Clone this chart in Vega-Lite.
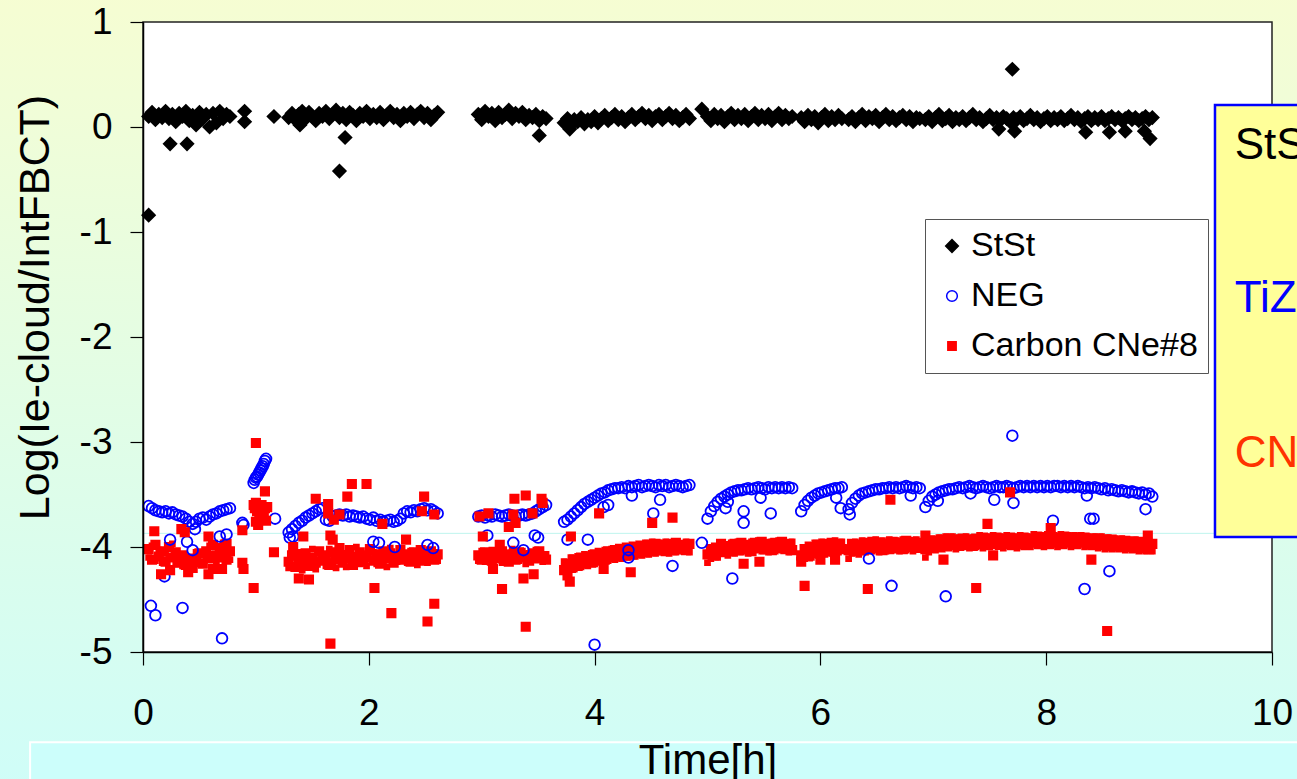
{
"$schema":"https://vega.github.io/schema/vega-lite/v6.json",
"width":1129,"height":630,
"autosize":{"type":"none"},
"padding":{"left":143,"top":22,"right":25,"bottom":127},
"background":"#e4fde6",
"config":{
 "view":{"stroke":null},
 "font":"Liberation Sans",
 "axis":{"grid":false,"domainColor":"#000000","domainWidth":1.5,"tickColor":"#000000","tickWidth":1.2,"tickSize":13,"labelColor":"#000000","labelFont":"Liberation Sans","labelFontSize":37,"titleFont":"Liberation Sans","titleFontWeight":"normal","titleColor":"#000000"},
 "axisX":{"labelPadding":30,"titleFontSize":42,"titlePadding":9,"labelFlush":false},
 "axisY":{"labelPadding":18,"titleFontSize":43,"titlePadding":20}
},
"datasets":{
"pts":[
{"t":0.05,"StSt":0.1,"NEG":-3.61,"Carbon":-4.02,"Carbon2":-4.1},
{"t":0.08,"StSt":0.14,"NEG":-3.63,"Carbon":-4.12,"Carbon2":-3.99},
{"t":0.11,"StSt":0.07,"NEG":-3.65,"Carbon":-3.98,"Carbon2":-4.13},
{"t":0.14,"StSt":0.12,"NEG":-3.66,"Carbon":-4.09,"Carbon2":-4.03},
{"t":0.17,"StSt":0.09,"NEG":-3.67,"Carbon":-4.04,"Carbon2":-4.15},
{"t":0.2,"StSt":0.15,"NEG":-3.66,"Carbon":-4.14,"Carbon2":-4.06},
{"t":0.23,"StSt":0.08,"NEG":-3.68,"Carbon":-4.0,"Carbon2":-4.11},
{"t":0.26,"StSt":0.12,"NEG":-3.67,"Carbon":-4.1,"Carbon2":-3.97},
{"t":0.29,"StSt":0.05,"NEG":-3.69,"Carbon":-4.05,"Carbon2":-4.16},
{"t":0.32,"StSt":0.13,"NEG":-3.7,"Carbon":-4.15,"Carbon2":-4.08},
{"t":0.35,"StSt":0.1,"NEG":-3.71,"Carbon":-4.08,"Carbon2":-4.18},
{"t":0.38,"StSt":0.15,"NEG":-3.73,"Carbon":-4.17,"Carbon2":-4.1},
{"t":0.41,"StSt":0.06,"NEG":-3.76,"Carbon":-4.11,"Carbon2":-4.2},
{"t":0.44,"StSt":0.11,"NEG":-3.78,"Carbon":-4.2,"Carbon2":-4.13},
{"t":0.47,"StSt":0.02,"NEG":-3.76,"Carbon":-4.13,"Carbon2":-4.05},
{"t":0.5,"StSt":0.14,"NEG":-3.73,"Carbon":-4.06,"Carbon2":-4.16},
{"t":0.53,"StSt":0.08,"NEG":-3.72,"Carbon":-4.16,"Carbon2":-4.08},
{"t":0.56,"StSt":0.12,"NEG":-3.74,"Carbon":-4.04,"Carbon2":-4.12},
{"t":0.59,"StSt":0.0,"NEG":-3.71,"Carbon":-4.11,"Carbon2":-3.99},
{"t":0.62,"StSt":0.13,"NEG":-3.69,"Carbon":-3.98,"Carbon2":-4.07},
{"t":0.65,"StSt":0.04,"NEG":-3.68,"Carbon":-4.08,"Carbon2":-4.14},
{"t":0.68,"StSt":0.15,"NEG":-3.66,"Carbon":-4.01,"Carbon2":-4.1},
{"t":0.71,"StSt":0.08,"NEG":-3.65,"Carbon":-4.1,"Carbon2":-3.96},
{"t":0.74,"StSt":0.12,"NEG":-3.64,"Carbon":-3.97,"Carbon2":-4.05},
{"t":0.77,"StSt":0.1,"NEG":-3.63,"Carbon":-4.04,"Carbon2":-4.12},
{"t":1.29,"StSt":0.09,"NEG":-3.86,"Carbon":-4.14,"Carbon2":-4.2},
{"t":1.32,"StSt":0.13,"NEG":-3.83,"Carbon":-4.08,"Carbon2":-4.17},
{"t":1.35,"StSt":0.07,"NEG":-3.8,"Carbon":-4.19,"Carbon2":-4.1},
{"t":1.38,"StSt":0.12,"NEG":-3.77,"Carbon":-4.12,"Carbon2":-4.05},
{"t":1.41,"StSt":0.15,"NEG":-3.75,"Carbon":-4.16,"Carbon2":-4.22},
{"t":1.44,"StSt":0.08,"NEG":-3.72,"Carbon":-4.06,"Carbon2":-4.13},
{"t":1.47,"StSt":0.14,"NEG":-3.7,"Carbon":-4.18,"Carbon2":-4.09},
{"t":1.5,"StSt":0.1,"NEG":-3.68,"Carbon":-4.1,"Carbon2":-4.02},
{"t":1.53,"StSt":0.06,"NEG":-3.66,"Carbon":-4.15,"Carbon2":-4.21},
{"t":1.56,"StSt":0.13,"NEG":-3.64,"Carbon":-4.04,"Carbon2":-4.12},
{"t":1.59,"StSt":0.1,"NEG":-3.63,"Carbon":-4.13,"Carbon2":-4.07},
{"t":1.62,"StSt":0.15,"NEG":-3.74,"Carbon":-4.08,"Carbon2":-4.18},
{"t":1.65,"StSt":0.08,"NEG":-3.75,"Carbon":-4.17,"Carbon2":-4.02},
{"t":1.68,"StSt":0.12,"NEG":-3.71,"Carbon":-4.05,"Carbon2":-4.14},
{"t":1.71,"StSt":0.16,"NEG":-3.7,"Carbon":-4.12,"Carbon2":-4.2},
{"t":1.74,"StSt":0.09,"NEG":-3.69,"Carbon":-4.01,"Carbon2":-4.09},
{"t":1.77,"StSt":0.13,"NEG":-3.7,"Carbon":-4.15,"Carbon2":-4.06},
{"t":1.8,"StSt":0.07,"NEG":-3.69,"Carbon":-4.09,"Carbon2":-4.19},
{"t":1.83,"StSt":0.14,"NEG":-3.71,"Carbon":-4.03,"Carbon2":-4.12},
{"t":1.86,"StSt":0.11,"NEG":-3.7,"Carbon":-4.17,"Carbon2":-4.08},
{"t":1.89,"StSt":0.06,"NEG":-3.71,"Carbon":-4.1,"Carbon2":-4.0},
{"t":1.92,"StSt":0.13,"NEG":-3.72,"Carbon":-4.05,"Carbon2":-4.16},
{"t":1.95,"StSt":0.1,"NEG":-3.71,"Carbon":-4.14,"Carbon2":-4.07},
{"t":1.98,"StSt":0.15,"NEG":-3.73,"Carbon":-4.08,"Carbon2":-4.18},
{"t":2.01,"StSt":0.08,"NEG":-3.74,"Carbon":-4.02,"Carbon2":-4.11},
{"t":2.04,"StSt":0.12,"NEG":-3.72,"Carbon":-4.13,"Carbon2":-4.05},
{"t":2.07,"StSt":0.09,"NEG":-3.75,"Carbon":-4.07,"Carbon2":-4.16},
{"t":2.1,"StSt":0.14,"NEG":-3.74,"Carbon":-4.16,"Carbon2":-4.1},
{"t":2.13,"StSt":0.07,"NEG":-3.76,"Carbon":-4.04,"Carbon2":-4.13},
{"t":2.16,"StSt":0.11,"NEG":-3.75,"Carbon":-4.11,"Carbon2":-4.19},
{"t":2.19,"StSt":0.15,"NEG":-3.74,"Carbon":-4.06,"Carbon2":-4.01},
{"t":2.22,"StSt":0.09,"NEG":-3.76,"Carbon":-4.15,"Carbon2":-4.09},
{"t":2.25,"StSt":0.12,"NEG":-3.75,"Carbon":-4.09,"Carbon2":-4.14},
{"t":2.28,"StSt":0.06,"NEG":-3.73,"Carbon":-4.03,"Carbon2":-4.11},
{"t":2.31,"StSt":0.13,"NEG":-3.68,"Carbon":-4.12,"Carbon2":-4.06},
{"t":2.34,"StSt":0.1,"NEG":-3.66,"Carbon":-4.07,"Carbon2":-4.15},
{"t":2.37,"StSt":0.14,"NEG":-3.67,"Carbon":-4.14,"Carbon2":-4.04},
{"t":2.4,"StSt":0.08,"NEG":-3.65,"Carbon":-4.05,"Carbon2":-4.12},
{"t":2.43,"StSt":0.12,"NEG":-3.66,"Carbon":-4.1,"Carbon2":-4.17},
{"t":2.46,"StSt":0.15,"NEG":-3.64,"Carbon":-4.03,"Carbon2":-4.08},
{"t":2.49,"StSt":0.09,"NEG":-3.63,"Carbon":-4.13,"Carbon2":-4.06},
{"t":2.52,"StSt":0.13,"NEG":-3.65,"Carbon":-4.08,"Carbon2":-4.15},
{"t":2.55,"StSt":0.07,"NEG":-3.64,"Carbon":-4.04,"Carbon2":-4.11},
{"t":2.58,"StSt":0.11,"NEG":-3.66,"Carbon":-4.12,"Carbon2":-4.05},
{"t":2.61,"StSt":0.14,"NEG":-3.68,"Carbon":-4.07,"Carbon2":-4.13},
{"t":2.97,"StSt":0.12,"NEG":-3.71,"Carbon":-4.08,"Carbon2":-4.13},
{"t":3.0,"StSt":0.07,"NEG":-3.7,"Carbon":-4.12,"Carbon2":-4.04},
{"t":3.03,"StSt":0.15,"NEG":-3.72,"Carbon":-4.05,"Carbon2":-4.14},
{"t":3.06,"StSt":0.1,"NEG":-3.7,"Carbon":-4.1,"Carbon2":-4.07},
{"t":3.09,"StSt":0.13,"NEG":-3.71,"Carbon":-4.13,"Carbon2":-4.03},
{"t":3.12,"StSt":0.06,"NEG":-3.69,"Carbon":-4.06,"Carbon2":-4.12},
{"t":3.15,"StSt":0.14,"NEG":-3.7,"Carbon":-4.11,"Carbon2":-4.08},
{"t":3.18,"StSt":0.09,"NEG":-3.71,"Carbon":-4.04,"Carbon2":-4.15},
{"t":3.21,"StSt":0.12,"NEG":-3.7,"Carbon":-4.09,"Carbon2":-4.06},
{"t":3.24,"StSt":0.16,"NEG":-3.69,"Carbon":-4.14,"Carbon2":-4.1},
{"t":3.27,"StSt":0.08,"NEG":-3.7,"Carbon":-4.07,"Carbon2":-4.02},
{"t":3.3,"StSt":0.13,"NEG":-3.71,"Carbon":-4.12,"Carbon2":-4.09},
{"t":3.33,"StSt":0.1,"NEG":-3.7,"Carbon":-4.05,"Carbon2":-4.13},
{"t":3.36,"StSt":0.14,"NEG":-3.69,"Carbon":-4.1,"Carbon2":-4.04},
{"t":3.39,"StSt":0.07,"NEG":-3.7,"Carbon":-4.08,"Carbon2":-4.16},
{"t":3.42,"StSt":0.11,"NEG":-3.69,"Carbon":-4.13,"Carbon2":-4.06},
{"t":3.45,"StSt":0.09,"NEG":-3.68,"Carbon":-4.06,"Carbon2":-4.11},
{"t":3.48,"StSt":0.12,"NEG":-3.66,"Carbon":-4.11,"Carbon2":-4.03},
{"t":3.51,"StSt":0.06,"NEG":-3.64,"Carbon":-4.04,"Carbon2":-4.1},
{"t":3.54,"StSt":0.1,"NEG":-3.62,"Carbon":-4.09,"Carbon2":-4.14},
{"t":3.57,"StSt":0.08,"NEG":-3.6,"Carbon":-4.12,"Carbon2":-4.07},
{"t":3.73,"StSt":0.04,"NEG":-3.76,"Carbon":-4.22,"Carbon2":-4.14},
{"t":3.76,"StSt":0.08,"NEG":-3.74,"Carbon":-4.16,"Carbon2":-4.25},
{"t":3.79,"StSt":0.02,"NEG":-3.71,"Carbon":-4.2,"Carbon2":-4.1},
{"t":3.82,"StSt":0.07,"NEG":-3.68,"Carbon":-4.12,"Carbon2":-4.21},
{"t":3.85,"StSt":0.05,"NEG":-3.65,"Carbon":-4.18,"Carbon2":-4.09},
{"t":3.88,"StSt":0.09,"NEG":-3.62,"Carbon":-4.1,"Carbon2":-4.19},
{"t":3.91,"StSt":0.03,"NEG":-3.59,"Carbon":-4.16,"Carbon2":-4.07},
{"t":3.94,"StSt":0.07,"NEG":-3.57,"Carbon":-4.09,"Carbon2":-4.18},
{"t":3.97,"StSt":0.05,"NEG":-3.55,"Carbon":-4.15,"Carbon2":-4.06},
{"t":4.0,"StSt":0.1,"NEG":-3.53,"Carbon":-4.07,"Carbon2":-4.16},
{"t":4.03,"StSt":0.04,"NEG":-3.51,"Carbon":-4.13,"Carbon2":-4.04},
{"t":4.06,"StSt":0.08,"NEG":-3.49,"Carbon":-4.06,"Carbon2":-4.14},
{"t":4.09,"StSt":0.11,"NEG":-3.48,"Carbon":-4.12,"Carbon2":-4.03},
{"t":4.12,"StSt":0.06,"NEG":-3.46,"Carbon":-4.04,"Carbon2":-4.13},
{"t":4.15,"StSt":0.09,"NEG":-3.45,"Carbon":-4.1,"Carbon2":-4.02},
{"t":4.18,"StSt":0.12,"NEG":-3.44,"Carbon":-4.03,"Carbon2":-4.12},
{"t":4.21,"StSt":0.07,"NEG":-3.44,"Carbon":-4.09,"Carbon2":-4.0},
{"t":4.24,"StSt":0.1,"NEG":-3.43,"Carbon":-4.02,"Carbon2":-4.11},
{"t":4.27,"StSt":0.05,"NEG":-3.44,"Carbon":-4.08,"Carbon2":-3.99},
{"t":4.3,"StSt":0.09,"NEG":-3.42,"Carbon":-4.01,"Carbon2":-4.1},
{"t":4.33,"StSt":0.12,"NEG":-3.43,"Carbon":-4.07,"Carbon2":-3.98},
{"t":4.36,"StSt":0.07,"NEG":-3.42,"Carbon":-4.0,"Carbon2":-4.09},
{"t":4.39,"StSt":0.1,"NEG":-3.41,"Carbon":-4.06,"Carbon2":-3.97},
{"t":4.42,"StSt":0.13,"NEG":-3.43,"Carbon":-3.99,"Carbon2":-4.08},
{"t":4.45,"StSt":0.08,"NEG":-3.42,"Carbon":-4.05,"Carbon2":-3.96},
{"t":4.48,"StSt":0.11,"NEG":-3.41,"Carbon":-3.98,"Carbon2":-4.07},
{"t":4.51,"StSt":0.06,"NEG":-3.42,"Carbon":-4.04,"Carbon2":-3.95},
{"t":4.54,"StSt":0.1,"NEG":-3.43,"Carbon":-3.97,"Carbon2":-4.06},
{"t":4.57,"StSt":0.12,"NEG":-3.41,"Carbon":-4.03,"Carbon2":-3.96},
{"t":4.6,"StSt":0.07,"NEG":-3.42,"Carbon":-3.98,"Carbon2":-4.05},
{"t":4.63,"StSt":0.1,"NEG":-3.41,"Carbon":-4.04,"Carbon2":-3.95},
{"t":4.66,"StSt":0.13,"NEG":-3.43,"Carbon":-3.97,"Carbon2":-4.06},
{"t":4.69,"StSt":0.08,"NEG":-3.42,"Carbon":-4.03,"Carbon2":-3.96},
{"t":4.72,"StSt":0.11,"NEG":-3.41,"Carbon":-3.96,"Carbon2":-4.05},
{"t":4.75,"StSt":0.06,"NEG":-3.42,"Carbon":-4.02,"Carbon2":-3.97},
{"t":4.78,"StSt":0.09,"NEG":-3.43,"Carbon":-3.98,"Carbon2":-4.04},
{"t":4.81,"StSt":0.12,"NEG":-3.42,"Carbon":-4.03,"Carbon2":-3.95},
{"t":4.84,"StSt":0.08,"NEG":-3.41,"Carbon":-3.97,"Carbon2":-4.05},
{"t":5.0,"StSt":0.1,"NEG":-3.73,"Carbon":-4.07,"Carbon2":-4.15},
{"t":5.03,"StSt":0.06,"NEG":-3.66,"Carbon":-4.02,"Carbon2":-4.11},
{"t":5.06,"StSt":0.12,"NEG":-3.61,"Carbon":-4.08,"Carbon2":-3.99},
{"t":5.09,"StSt":0.08,"NEG":-3.57,"Carbon":-4.03,"Carbon2":-4.1},
{"t":5.12,"StSt":0.11,"NEG":-3.54,"Carbon":-3.97,"Carbon2":-4.06},
{"t":5.15,"StSt":0.05,"NEG":-3.52,"Carbon":-4.05,"Carbon2":-3.98},
{"t":5.18,"StSt":0.1,"NEG":-3.5,"Carbon":-3.99,"Carbon2":-4.08},
{"t":5.21,"StSt":0.13,"NEG":-3.48,"Carbon":-4.04,"Carbon2":-3.96},
{"t":5.24,"StSt":0.07,"NEG":-3.47,"Carbon":-3.97,"Carbon2":-4.06},
{"t":5.27,"StSt":0.11,"NEG":-3.46,"Carbon":-4.03,"Carbon2":-3.95},
{"t":5.3,"StSt":0.08,"NEG":-3.46,"Carbon":-3.96,"Carbon2":-4.05},
{"t":5.33,"StSt":0.12,"NEG":-3.45,"Carbon":-4.02,"Carbon2":-3.97},
{"t":5.36,"StSt":0.06,"NEG":-3.44,"Carbon":-3.98,"Carbon2":-4.06},
{"t":5.39,"StSt":0.1,"NEG":-3.45,"Carbon":-4.04,"Carbon2":-3.95},
{"t":5.42,"StSt":0.13,"NEG":-3.44,"Carbon":-3.96,"Carbon2":-4.03},
{"t":5.45,"StSt":0.07,"NEG":-3.43,"Carbon":-4.01,"Carbon2":-3.94},
{"t":5.48,"StSt":0.11,"NEG":-3.44,"Carbon":-3.95,"Carbon2":-4.04},
{"t":5.51,"StSt":0.08,"NEG":-3.45,"Carbon":-4.02,"Carbon2":-3.96},
{"t":5.54,"StSt":0.12,"NEG":-3.43,"Carbon":-3.97,"Carbon2":-4.05},
{"t":5.57,"StSt":0.06,"NEG":-3.44,"Carbon":-4.03,"Carbon2":-3.95},
{"t":5.6,"StSt":0.1,"NEG":-3.43,"Carbon":-3.96,"Carbon2":-4.04},
{"t":5.63,"StSt":0.13,"NEG":-3.44,"Carbon":-4.01,"Carbon2":-3.94},
{"t":5.66,"StSt":0.07,"NEG":-3.43,"Carbon":-3.95,"Carbon2":-4.03},
{"t":5.69,"StSt":0.11,"NEG":-3.44,"Carbon":-4.02,"Carbon2":-3.96},
{"t":5.72,"StSt":0.08,"NEG":-3.43,"Carbon":-3.97,"Carbon2":-4.05},
{"t":5.75,"StSt":0.1,"NEG":-3.44,"Carbon":-4.03,"Carbon2":-3.95},
{"t":5.83,"StSt":0.09,"NEG":-3.66,"Carbon":-4.08,"Carbon2":-4.14},
{"t":5.86,"StSt":0.05,"NEG":-3.6,"Carbon":-4.02,"Carbon2":-4.11},
{"t":5.89,"StSt":0.11,"NEG":-3.56,"Carbon":-4.09,"Carbon2":-3.98},
{"t":5.92,"StSt":0.07,"NEG":-3.53,"Carbon":-4.0,"Carbon2":-4.1},
{"t":5.95,"StSt":0.1,"NEG":-3.51,"Carbon":-4.06,"Carbon2":-3.96},
{"t":5.98,"StSt":0.04,"NEG":-3.49,"Carbon":-3.98,"Carbon2":-4.08},
{"t":6.01,"StSt":0.09,"NEG":-3.48,"Carbon":-4.05,"Carbon2":-3.95},
{"t":6.04,"StSt":0.12,"NEG":-3.47,"Carbon":-3.97,"Carbon2":-4.07},
{"t":6.07,"StSt":0.06,"NEG":-3.46,"Carbon":-4.04,"Carbon2":-3.96},
{"t":6.1,"StSt":0.1,"NEG":-3.45,"Carbon":-3.96,"Carbon2":-4.06},
{"t":6.13,"StSt":0.07,"NEG":-3.44,"Carbon":-4.03,"Carbon2":-3.94},
{"t":6.16,"StSt":0.11,"NEG":-3.44,"Carbon":-3.97,"Carbon2":-4.05},
{"t":6.19,"StSt":0.08,"NEG":-3.43,"Carbon":-4.02,"Carbon2":-3.95},
{"t":6.25,"StSt":0.07,"NEG":-3.64,"Carbon":-4.03,"Carbon2":-4.11},
{"t":6.28,"StSt":0.1,"NEG":-3.58,"Carbon":-3.97,"Carbon2":-4.06},
{"t":6.31,"StSt":0.05,"NEG":-3.54,"Carbon":-4.04,"Carbon2":-3.95},
{"t":6.34,"StSt":0.09,"NEG":-3.51,"Carbon":-3.98,"Carbon2":-4.07},
{"t":6.37,"StSt":0.12,"NEG":-3.49,"Carbon":-4.03,"Carbon2":-3.94},
{"t":6.4,"StSt":0.06,"NEG":-3.48,"Carbon":-3.96,"Carbon2":-4.05},
{"t":6.43,"StSt":0.1,"NEG":-3.47,"Carbon":-4.02,"Carbon2":-3.95},
{"t":6.46,"StSt":0.08,"NEG":-3.46,"Carbon":-3.95,"Carbon2":-4.04},
{"t":6.49,"StSt":0.11,"NEG":-3.45,"Carbon":-4.01,"Carbon2":-3.93},
{"t":6.52,"StSt":0.05,"NEG":-3.45,"Carbon":-3.96,"Carbon2":-4.05},
{"t":6.55,"StSt":0.09,"NEG":-3.44,"Carbon":-4.03,"Carbon2":-3.94},
{"t":6.58,"StSt":0.12,"NEG":-3.44,"Carbon":-3.97,"Carbon2":-4.04},
{"t":6.61,"StSt":0.07,"NEG":-3.43,"Carbon":-4.02,"Carbon2":-3.93},
{"t":6.64,"StSt":0.1,"NEG":-3.44,"Carbon":-3.95,"Carbon2":-4.03},
{"t":6.67,"StSt":0.06,"NEG":-3.43,"Carbon":-4.01,"Carbon2":-3.94},
{"t":6.7,"StSt":0.09,"NEG":-3.44,"Carbon":-3.96,"Carbon2":-4.04},
{"t":6.73,"StSt":0.11,"NEG":-3.43,"Carbon":-4.02,"Carbon2":-3.93},
{"t":6.76,"StSt":0.07,"NEG":-3.42,"Carbon":-3.94,"Carbon2":-4.03},
{"t":6.79,"StSt":0.1,"NEG":-3.43,"Carbon":-4.0,"Carbon2":-3.95},
{"t":6.82,"StSt":0.05,"NEG":-3.44,"Carbon":-3.95,"Carbon2":-4.04},
{"t":6.85,"StSt":0.09,"NEG":-3.43,"Carbon":-4.01,"Carbon2":-3.93},
{"t":6.88,"StSt":0.08,"NEG":-3.44,"Carbon":-3.96,"Carbon2":-4.02},
{"t":6.93,"StSt":0.07,"NEG":-3.62,"Carbon":-4.02,"Carbon2":-4.1},
{"t":6.96,"StSt":0.1,"NEG":-3.56,"Carbon":-3.95,"Carbon2":-4.05},
{"t":6.99,"StSt":0.05,"NEG":-3.52,"Carbon":-4.01,"Carbon2":-3.92},
{"t":7.02,"StSt":0.09,"NEG":-3.5,"Carbon":-3.94,"Carbon2":-4.03},
{"t":7.05,"StSt":0.12,"NEG":-3.48,"Carbon":-4.0,"Carbon2":-3.91},
{"t":7.08,"StSt":0.06,"NEG":-3.47,"Carbon":-3.93,"Carbon2":-4.02},
{"t":7.11,"StSt":0.08,"NEG":-3.46,"Carbon":-3.99,"Carbon2":-3.9},
{"t":7.14,"StSt":0.11,"NEG":-3.45,"Carbon":-3.92,"Carbon2":-4.01},
{"t":7.17,"StSt":0.05,"NEG":-3.45,"Carbon":-3.98,"Carbon2":-3.9},
{"t":7.2,"StSt":0.09,"NEG":-3.44,"Carbon":-3.93,"Carbon2":-4.02},
{"t":7.23,"StSt":0.07,"NEG":-3.43,"Carbon":-3.99,"Carbon2":-3.91},
{"t":7.26,"StSt":0.1,"NEG":-3.44,"Carbon":-3.92,"Carbon2":-4.0},
{"t":7.29,"StSt":0.06,"NEG":-3.43,"Carbon":-3.98,"Carbon2":-3.9},
{"t":7.32,"StSt":0.09,"NEG":-3.42,"Carbon":-3.93,"Carbon2":-4.01},
{"t":7.35,"StSt":0.12,"NEG":-3.43,"Carbon":-3.99,"Carbon2":-3.91},
{"t":7.38,"StSt":0.07,"NEG":-3.44,"Carbon":-3.92,"Carbon2":-4.0},
{"t":7.41,"StSt":0.09,"NEG":-3.43,"Carbon":-3.97,"Carbon2":-3.89},
{"t":7.44,"StSt":0.05,"NEG":-3.42,"Carbon":-3.91,"Carbon2":-4.01},
{"t":7.47,"StSt":0.08,"NEG":-3.43,"Carbon":-3.98,"Carbon2":-3.9},
{"t":7.5,"StSt":0.11,"NEG":-3.44,"Carbon":-3.92,"Carbon2":-4.0},
{"t":7.53,"StSt":0.07,"NEG":-3.43,"Carbon":-3.97,"Carbon2":-3.89},
{"t":7.56,"StSt":0.09,"NEG":-3.42,"Carbon":-3.91,"Carbon2":-3.99},
{"t":7.59,"StSt":0.06,"NEG":-3.43,"Carbon":-3.98,"Carbon2":-3.9},
{"t":7.62,"StSt":0.1,"NEG":-3.43,"Carbon":-3.92,"Carbon2":-4.01},
{"t":7.65,"StSt":0.08,"NEG":-3.42,"Carbon":-3.97,"Carbon2":-3.89},
{"t":7.68,"StSt":0.05,"NEG":-3.43,"Carbon":-3.91,"Carbon2":-4.0},
{"t":7.71,"StSt":0.09,"NEG":-3.44,"Carbon":-3.98,"Carbon2":-3.9},
{"t":7.74,"StSt":0.07,"NEG":-3.43,"Carbon":-3.92,"Carbon2":-4.01},
{"t":7.77,"StSt":0.1,"NEG":-3.42,"Carbon":-3.97,"Carbon2":-3.89},
{"t":7.8,"StSt":0.06,"NEG":-3.43,"Carbon":-3.91,"Carbon2":-4.0},
{"t":7.83,"StSt":0.08,"NEG":-3.42,"Carbon":-3.98,"Carbon2":-3.9},
{"t":7.86,"StSt":0.11,"NEG":-3.43,"Carbon":-3.92,"Carbon2":-4.0},
{"t":7.89,"StSt":0.07,"NEG":-3.42,"Carbon":-3.96,"Carbon2":-3.88},
{"t":7.92,"StSt":0.09,"NEG":-3.43,"Carbon":-3.9,"Carbon2":-3.99},
{"t":7.95,"StSt":0.05,"NEG":-3.42,"Carbon":-3.97,"Carbon2":-3.89},
{"t":7.98,"StSt":0.08,"NEG":-3.43,"Carbon":-3.91,"Carbon2":-4.0},
{"t":8.01,"StSt":0.1,"NEG":-3.42,"Carbon":-3.97,"Carbon2":-3.88},
{"t":8.04,"StSt":0.06,"NEG":-3.43,"Carbon":-3.9,"Carbon2":-3.99},
{"t":8.07,"StSt":0.09,"NEG":-3.42,"Carbon":-3.96,"Carbon2":-3.89},
{"t":8.1,"StSt":0.07,"NEG":-3.42,"Carbon":-3.91,"Carbon2":-4.0},
{"t":8.13,"StSt":0.1,"NEG":-3.43,"Carbon":-3.97,"Carbon2":-3.88},
{"t":8.16,"StSt":0.06,"NEG":-3.42,"Carbon":-3.9,"Carbon2":-3.99},
{"t":8.19,"StSt":0.08,"NEG":-3.43,"Carbon":-3.96,"Carbon2":-3.89},
{"t":8.22,"StSt":0.11,"NEG":-3.42,"Carbon":-3.91,"Carbon2":-4.0},
{"t":8.25,"StSt":0.07,"NEG":-3.43,"Carbon":-3.97,"Carbon2":-3.89},
{"t":8.28,"StSt":0.09,"NEG":-3.42,"Carbon":-3.91,"Carbon2":-3.99},
{"t":8.31,"StSt":0.05,"NEG":-3.43,"Carbon":-3.96,"Carbon2":-3.89},
{"t":8.34,"StSt":0.08,"NEG":-3.44,"Carbon":-3.91,"Carbon2":-4.0},
{"t":8.37,"StSt":0.1,"NEG":-3.43,"Carbon":-3.97,"Carbon2":-3.9},
{"t":8.4,"StSt":0.06,"NEG":-3.44,"Carbon":-3.92,"Carbon2":-4.0},
{"t":8.43,"StSt":0.09,"NEG":-3.43,"Carbon":-3.98,"Carbon2":-3.9},
{"t":8.46,"StSt":0.07,"NEG":-3.44,"Carbon":-3.92,"Carbon2":-4.01},
{"t":8.49,"StSt":0.1,"NEG":-3.45,"Carbon":-3.98,"Carbon2":-3.9},
{"t":8.52,"StSt":0.06,"NEG":-3.44,"Carbon":-3.93,"Carbon2":-4.02},
{"t":8.55,"StSt":0.08,"NEG":-3.46,"Carbon":-3.99,"Carbon2":-3.91},
{"t":8.58,"StSt":0.1,"NEG":-3.45,"Carbon":-3.93,"Carbon2":-4.02},
{"t":8.61,"StSt":0.07,"NEG":-3.46,"Carbon":-3.99,"Carbon2":-3.92},
{"t":8.64,"StSt":0.09,"NEG":-3.47,"Carbon":-3.94,"Carbon2":-4.02},
{"t":8.67,"StSt":0.06,"NEG":-3.46,"Carbon":-4.0,"Carbon2":-3.92},
{"t":8.7,"StSt":0.08,"NEG":-3.47,"Carbon":-3.94,"Carbon2":-4.03},
{"t":8.73,"StSt":0.1,"NEG":-3.48,"Carbon":-4.0,"Carbon2":-3.93},
{"t":8.76,"StSt":0.07,"NEG":-3.47,"Carbon":-3.95,"Carbon2":-4.03},
{"t":8.79,"StSt":0.09,"NEG":-3.48,"Carbon":-4.01,"Carbon2":-3.93},
{"t":8.82,"StSt":0.06,"NEG":-3.49,"Carbon":-3.95,"Carbon2":-4.04},
{"t":8.85,"StSt":0.08,"NEG":-3.48,"Carbon":-4.01,"Carbon2":-3.94},
{"t":8.88,"StSt":0.1,"NEG":-3.5,"Carbon":-3.96,"Carbon2":-4.04},
{"t":8.91,"StSt":0.07,"NEG":-3.49,"Carbon":-4.02,"Carbon2":-3.94},
{"t":8.94,"StSt":0.09,"NEG":-3.52,"Carbon":-3.97,"Carbon2":-4.04},
{"t":0.05,"StSt":-0.84},{"t":0.24,"StSt":-0.16},{"t":0.39,"StSt":-0.16},{"t":0.9,"StSt":0.15},{"t":0.9,"StSt":0.05},{"t":1.16,"StSt":0.1},{"t":1.39,"StSt":0.02},{"t":1.74,"StSt":-0.42},{"t":1.79,"StSt":-0.1},{"t":3.51,"StSt":-0.08},{"t":3.78,"StSt":-0.02},{"t":4.95,"StSt":0.17},{"t":7.7,"StSt":0.55},{"t":7.58,"StSt":-0.02},{"t":7.72,"StSt":-0.04},{"t":8.35,"StSt":-0.05},{"t":8.56,"StSt":-0.05},{"t":8.7,"StSt":-0.04},{"t":8.87,"StSt":-0.04},{"t":8.92,"StSt":-0.11},
{"t":0.07,"NEG":-4.56},{"t":0.11,"NEG":-4.65},{"t":0.35,"NEG":-4.58},{"t":0.7,"NEG":-4.87},{"t":0.24,"NEG":-3.93},{"t":0.39,"NEG":-3.95},{"t":0.19,"NEG":-4.28},{"t":0.44,"NEG":-4.03},{"t":0.68,"NEG":-3.9},{"t":0.74,"NEG":-3.88},{"t":0.46,"NEG":-3.83},
{"t":0.88,"NEG":-3.77},{"t":0.89,"NEG":-3.79},{"t":0.98,"NEG":-3.39},{"t":0.99,"NEG":-3.36},{"t":1.0,"NEG":-3.34},{"t":1.01,"NEG":-3.33},{"t":1.02,"NEG":-3.31},{"t":1.03,"NEG":-3.29},{"t":1.04,"NEG":-3.27},{"t":1.05,"NEG":-3.25},{"t":1.06,"NEG":-3.23},{"t":1.07,"NEG":-3.21},{"t":1.08,"NEG":-3.18},{"t":1.09,"NEG":-3.16},{"t":1.17,"NEG":-3.73},
{"t":1.3,"NEG":-3.91},{"t":1.33,"NEG":-3.9},{"t":2.04,"NEG":-3.95},{"t":2.09,"NEG":-3.96},{"t":2.23,"NEG":-4.0},{"t":2.52,"NEG":-3.98},{"t":2.57,"NEG":-4.01},
{"t":3.05,"NEG":-3.89},{"t":3.28,"NEG":-3.96},{"t":3.37,"NEG":-4.03},{"t":3.47,"NEG":-3.89},{"t":3.5,"NEG":-3.91},
{"t":3.76,"NEG":-3.93},{"t":3.94,"NEG":-3.93},{"t":4.12,"NEG":-3.6},{"t":4.0,"NEG":-4.93},{"t":4.3,"NEG":-4.03},{"t":4.08,"NEG":-3.62},{"t":4.33,"NEG":-3.51},{"t":4.52,"NEG":-3.68},{"t":4.58,"NEG":-3.55},{"t":4.69,"NEG":-4.18},{"t":4.3,"NEG":-4.1},
{"t":4.95,"NEG":-3.96},{"t":5.16,"NEG":-3.63},{"t":5.18,"NEG":-3.57},{"t":5.22,"NEG":-4.3},{"t":5.32,"NEG":-3.66},{"t":5.32,"NEG":-3.77},{"t":5.47,"NEG":-3.53},{"t":5.56,"NEG":-3.68},{"t":6.14,"NEG":-3.53},{"t":6.18,"NEG":-3.63},{"t":6.26,"NEG":-3.69},{"t":6.43,"NEG":-4.11},{"t":6.63,"NEG":-4.37},{"t":6.8,"NEG":-3.51},{"t":7.04,"NEG":-3.56},{"t":7.11,"NEG":-4.47},{"t":7.33,"NEG":-3.49},{"t":7.54,"NEG":-3.55},{"t":7.71,"NEG":-3.58},{"t":8.06,"NEG":-3.75},{"t":8.34,"NEG":-4.4},{"t":8.39,"NEG":-3.73},{"t":8.42,"NEG":-3.73},{"t":8.56,"NEG":-4.23},{"t":8.88,"NEG":-3.64},{"t":8.36,"NEG":-3.51},{"t":7.7,"NEG":-2.94},
{"t":0.1,"Carbon":-3.85},{"t":0.34,"Carbon":-3.83},{"t":0.37,"Carbon":-3.86},{"t":0.16,"Carbon":-4.26},{"t":0.24,"Carbon":-4.22},{"t":0.4,"Carbon":-4.24},{"t":0.58,"Carbon":-4.26},{"t":0.62,"Carbon":-4.21},{"t":0.7,"Carbon":-4.21},{"t":0.58,"Carbon":-3.9},{"t":0.74,"Carbon":-4.12},
{"t":0.88,"Carbon":-3.84},{"t":0.88,"Carbon":-4.15},{"t":0.89,"Carbon":-4.21},{"t":1.0,"Carbon":-3.01},{"t":0.98,"Carbon":-3.6},{"t":0.99,"Carbon":-3.63},{"t":1.0,"Carbon":-3.58},{"t":1.01,"Carbon":-3.66},{"t":1.02,"Carbon":-3.61},{"t":1.03,"Carbon":-3.7},{"t":1.04,"Carbon":-3.64},{"t":1.05,"Carbon":-3.6},{"t":1.06,"Carbon":-3.68},{"t":1.07,"Carbon":-3.72},{"t":1.08,"Carbon":-3.63},{"t":1.09,"Carbon":-3.75},{"t":1.0,"Carbon":-3.76},{"t":1.02,"Carbon":-3.79},{"t":1.08,"Carbon":-3.47},{"t":1.1,"Carbon":-3.62},{"t":0.98,"Carbon":-4.39},{"t":1.16,"Carbon":-4.05},
{"t":1.53,"Carbon":-3.54},{"t":1.64,"Carbon":-3.59},{"t":1.81,"Carbon":-3.52},{"t":1.85,"Carbon":-3.4},{"t":1.98,"Carbon":-3.4},{"t":1.64,"Carbon":-3.68},{"t":1.74,"Carbon":-3.69},{"t":1.69,"Carbon":-3.74},{"t":1.66,"Carbon":-3.89},{"t":1.68,"Carbon":-3.93},{"t":1.42,"Carbon":-3.9},{"t":1.38,"Carbon":-4.3},{"t":1.47,"Carbon":-4.31},{"t":1.66,"Carbon":-4.92},{"t":2.05,"Carbon":-4.39},{"t":2.12,"Carbon":-3.78},{"t":2.2,"Carbon":-4.63},{"t":2.33,"Carbon":-3.93},{"t":2.49,"Carbon":-3.52},{"t":2.47,"Carbon":-3.66},{"t":2.58,"Carbon":-3.69},{"t":2.58,"Carbon":-4.54},{"t":2.52,"Carbon":-4.71},{"t":1.33,"Carbon":-4.0},
{"t":2.98,"Carbon":-3.71},{"t":3.06,"Carbon":-3.68},{"t":3.01,"Carbon":-3.9},{"t":3.29,"Carbon":-3.54},{"t":3.39,"Carbon":-3.51},{"t":3.28,"Carbon":-3.69},{"t":3.24,"Carbon":-3.81},{"t":3.3,"Carbon":-3.77},{"t":3.45,"Carbon":-3.68},{"t":3.53,"Carbon":-3.54},{"t":3.54,"Carbon":-3.58},{"t":3.18,"Carbon":-4.4},{"t":3.39,"Carbon":-4.76},{"t":3.37,"Carbon":-4.3},{"t":3.46,"Carbon":-4.26},{"t":3.16,"Carbon":-3.98},{"t":3.1,"Carbon":-4.21},
{"t":3.76,"Carbon":-4.27},{"t":3.78,"Carbon":-4.33},{"t":3.79,"Carbon":-3.9},{"t":4.04,"Carbon":-3.68},{"t":4.32,"Carbon":-4.24},{"t":4.08,"Carbon":-4.21},{"t":4.51,"Carbon":-3.77},{"t":4.69,"Carbon":-3.72},
{"t":5.32,"Carbon":-4.16},{"t":5.46,"Carbon":-4.14},{"t":5.83,"Carbon":-4.14},{"t":5.86,"Carbon":-4.37},{"t":6.0,"Carbon":-4.12},{"t":6.13,"Carbon":-4.12},{"t":6.42,"Carbon":-4.4},{"t":6.62,"Carbon":-3.55},{"t":6.93,"Carbon":-3.89},{"t":7.09,"Carbon":-4.12},{"t":7.38,"Carbon":-4.39},{"t":7.48,"Carbon":-3.78},{"t":7.53,"Carbon":-4.08},{"t":7.68,"Carbon":-3.48},{"t":8.04,"Carbon":-3.82},{"t":8.4,"Carbon":-4.12},{"t":8.54,"Carbon":-4.8},{"t":8.9,"Carbon":-3.89}
]
},
"layer":[
{"data":{"values":[{}]},"mark":{"type":"rect","color":{"gradient":"linear","x1":0,"y1":0,"x2":0,"y2":1,"stops":[{"offset":0,"color":"#f6fdd2"},{"offset":1,"color":"#cffdf8"}]}},
 "encoding":{"x":{"datum":-1.3,"type":"quantitative","scale":{"domain":[0,10],"nice":false},"title":"Time[h]","axis":{"zindex":2,"values":[0,2,4,6,8,10]}},"x2":{"datum":10.3},"y":{"datum":1.3,"type":"quantitative","scale":{"domain":[-5,1],"nice":false},"title":"Log(Ie-cloud/IntFBCT)","axis":{"zindex":2,"values":[-5,-4,-3,-2,-1,0,1],"labelExpr":"toString(datum.value)","titleX":-86,"titleY":285}},"y2":{"datum":-6.3}}},
{"data":{"values":[{}]},"mark":{"type":"rect","fill":"#ffffff","stroke":"#222222","strokeWidth":1.5},
 "encoding":{"x":{"datum":0,"type":"quantitative","title":"Time[h]","axis":{"zindex":2,"values":[0,2,4,6,8,10]}},"x2":{"datum":10},"y":{"datum":1,"type":"quantitative","title":"Log(Ie-cloud/IntFBCT)","axis":{"zindex":2,"values":[-5,-4,-3,-2,-1,0,1],"labelExpr":"toString(datum.value)","titleX":-86,"titleY":285}},"y2":{"datum":-5}}},
{"data":{"values":[{}]},"mark":{"type":"rule","color":"#bff5ee","strokeWidth":1},
 "encoding":{"x":{"datum":0,"type":"quantitative","title":"Time[h]","axis":{"zindex":2,"values":[0,2,4,6,8,10]}},"x2":{"datum":9.5},"y":{"datum":-3.87,"type":"quantitative","title":"Log(Ie-cloud/IntFBCT)","axis":{"zindex":2,"values":[-5,-4,-3,-2,-1,0,1],"labelExpr":"toString(datum.value)","titleX":-86,"titleY":285}}}},
{"data":{"name":"pts"},
 "transform":[{"fold":["StSt","NEG","Carbon","Carbon2"],"as":["series","v"]},{"filter":"isValid(datum.v)"}],
 "mark":{"type":"point","filled":false,"strokeWidth":1.8,"opacity":1},
 "encoding":{
  "x":{"field":"t","type":"quantitative","scale":{"domain":[0,10],"nice":false},"title":"Time[h]","axis":{"zindex":2,"values":[0,2,4,6,8,10]}},
  "y":{"field":"v","type":"quantitative","scale":{"domain":[-5,1],"nice":false},"title":"Log(Ie-cloud/IntFBCT)","axis":{"zindex":2,"values":[-5,-4,-3,-2,-1,0,1],"labelExpr":"toString(datum.value)","titleX":-86,"titleY":285}},
  "shape":{"field":"series","type":"nominal","scale":{"domain":["StSt","NEG","Carbon","Carbon2"],"range":["diamond","circle","square","square"]},"legend":{"values":["StSt","NEG","Carbon"],"labelExpr":"datum.label == 'Carbon' ? 'Carbon CNe#8' : datum.label","title":null,"orient":"none","legendX":782,"legendY":197,"padding":10,"fillColor":"#ffffff","strokeColor":"#555555","labelFontSize":34,"labelLimit":400,"labelFont":"Liberation Sans","labelColor":"#000000","labelOffset":2,"rowPadding":16,"symbolStrokeWidth":1.5,"zindex":1}},
  "fill":{"field":"series","type":"nominal","scale":{"domain":["StSt","NEG","Carbon","Carbon2"],"range":["#000000","transparent","#ff0000","#ff0000"]},"legend":{"values":["StSt","NEG","Carbon"],"labelExpr":"datum.label == 'Carbon' ? 'Carbon CNe#8' : datum.label","title":null,"orient":"none","legendX":782,"legendY":197,"padding":10,"fillColor":"#ffffff","strokeColor":"#555555","labelFontSize":34,"labelLimit":400,"labelFont":"Liberation Sans","labelColor":"#000000","labelOffset":2,"rowPadding":16,"symbolStrokeWidth":1.5,"zindex":1}},
  "stroke":{"field":"series","type":"nominal","scale":{"domain":["StSt","NEG","Carbon","Carbon2"],"range":["#000000","#0000ff","#ff0000","#ff0000"]},"legend":{"values":["StSt","NEG","Carbon"],"labelExpr":"datum.label == 'Carbon' ? 'Carbon CNe#8' : datum.label","title":null,"orient":"none","legendX":782,"legendY":197,"padding":10,"fillColor":"#ffffff","strokeColor":"#555555","labelFontSize":34,"labelLimit":400,"labelFont":"Liberation Sans","labelColor":"#000000","labelOffset":2,"rowPadding":16,"symbolStrokeWidth":1.5,"zindex":1}},
  "size":{"field":"series","type":"ordinal","scale":{"domain":["StSt","NEG","Carbon","Carbon2"],"range":[160,24,60,60]},"legend":{"values":["StSt","NEG","Carbon"],"labelExpr":"datum.label == 'Carbon' ? 'Carbon CNe#8' : datum.label","title":null,"orient":"none","legendX":782,"legendY":197,"padding":10,"fillColor":"#ffffff","strokeColor":"#555555","labelFontSize":34,"labelLimit":400,"labelFont":"Liberation Sans","labelColor":"#000000","labelOffset":2,"rowPadding":16,"symbolStrokeWidth":1.5,"zindex":1}}
 }},
{"data":{"values":[{}]},"mark":{"type":"rect","fill":"#ffff99","stroke":"#0000ff","strokeWidth":2.5},
 "encoding":{"x":{"datum":9.495,"type":"quantitative","title":"Time[h]","axis":{"zindex":2,"values":[0,2,4,6,8,10]}},"x2":{"datum":10.6},"y":{"datum":0.21,"type":"quantitative","title":"Log(Ie-cloud/IntFBCT)","axis":{"zindex":2,"values":[-5,-4,-3,-2,-1,0,1],"labelExpr":"toString(datum.value)","titleX":-86,"titleY":285}},"y2":{"datum":-3.905}}},
{"data":{"values":[{}]},"mark":{"type":"text","text":"StS","align":"left","baseline":"alphabetic","fontSize":44,"font":"Liberation Sans","color":"#000000"},
 "encoding":{"x":{"datum":9.67,"type":"quantitative","title":"Time[h]","axis":{"zindex":2,"values":[0,2,4,6,8,10]}},"y":{"datum":-0.3,"type":"quantitative","title":"Log(Ie-cloud/IntFBCT)","axis":{"zindex":2,"values":[-5,-4,-3,-2,-1,0,1],"labelExpr":"toString(datum.value)","titleX":-86,"titleY":285}}}},
{"data":{"values":[{}]},"mark":{"type":"text","text":"TiZ","align":"left","baseline":"alphabetic","fontSize":44,"font":"Liberation Sans","color":"#0000ff"},
 "encoding":{"x":{"datum":9.67,"type":"quantitative","title":"Time[h]","axis":{"zindex":2,"values":[0,2,4,6,8,10]}},"y":{"datum":-1.76,"type":"quantitative","title":"Log(Ie-cloud/IntFBCT)","axis":{"zindex":2,"values":[-5,-4,-3,-2,-1,0,1],"labelExpr":"toString(datum.value)","titleX":-86,"titleY":285}}}},
{"data":{"values":[{}]},"mark":{"type":"text","text":"CN","align":"left","baseline":"alphabetic","fontSize":44,"font":"Liberation Sans","color":"#ff3300"},
 "encoding":{"x":{"datum":9.67,"type":"quantitative","title":"Time[h]","axis":{"zindex":2,"values":[0,2,4,6,8,10]}},"y":{"datum":-3.24,"type":"quantitative","title":"Log(Ie-cloud/IntFBCT)","axis":{"zindex":2,"values":[-5,-4,-3,-2,-1,0,1],"labelExpr":"toString(datum.value)","titleX":-86,"titleY":285}}}},
{"data":{"values":[{}]},"mark":{"type":"rect","fill":"#ccfefb","stroke":"#ffffff","strokeWidth":2},
 "encoding":{"x":{"datum":-1.0,"type":"quantitative","title":"Time[h]","axis":{"zindex":2,"values":[0,2,4,6,8,10]}},"x2":{"datum":10.6},"y":{"datum":-5.86,"type":"quantitative","title":"Log(Ie-cloud/IntFBCT)","axis":{"zindex":2,"values":[-5,-4,-3,-2,-1,0,1],"labelExpr":"toString(datum.value)","titleX":-86,"titleY":285}},"y2":{"datum":-6.6}}}
]
}
